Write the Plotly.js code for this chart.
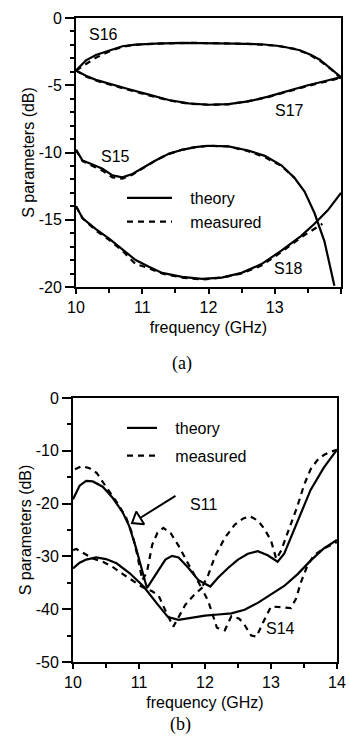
<!DOCTYPE html>
<html><head><meta charset="utf-8">
<script src="https://cdn.plot.ly/plotly-3.0.1.min.js"></script>
<style>html,body{margin:0;padding:0;background:#fff}#chart{width:349px;height:746px}</style>
</head><body><div id="chart"></div>
<script>
// ---------- panel (a) ----------
const fS16 = [10, 10.15, 10.3, 10.5, 10.7, 10.9, 11.2, 11.6, 12.0, 12.4, 12.8, 13.1, 13.38, 13.55, 13.68, 13.88, 14];
const s16Theory = [-3.9, -3.15, -2.75, -2.4, -2.1, -1.98, -1.9, -1.85, -1.85, -1.9, -1.95, -2.1, -2.4, -2.75, -3.1, -3.9, -4.4];
const fS16m = [10, 10.1, 10.2, 10.3, 10.45, 10.6, 10.8, 11.0, 11.4, 11.8, 12.2, 12.6, 13.0, 13.3, 13.5, 13.7, 13.85, 14];
const s16Meas = [-3.9, -3.6, -3.3, -2.95, -2.6, -2.3, -2.05, -1.95, -1.88, -1.85, -1.88, -1.93, -2.05, -2.3, -2.65, -3.25, -3.8, -4.5];

const fS17 = [10, 10.15, 10.3, 10.5, 10.8, 11.1, 11.4, 11.7, 12.0, 12.3, 12.6, 12.9, 13.2, 13.5, 13.75, 14];
const s17Theory = [-3.9, -4.3, -4.6, -4.9, -5.3, -5.7, -6.1, -6.35, -6.45, -6.4, -6.2, -5.85, -5.4, -5.0, -4.7, -4.4];
const s17Meas = [-3.9, -4.35, -4.65, -4.95, -5.35, -5.75, -6.12, -6.38, -6.45, -6.42, -6.18, -5.88, -5.45, -5.05, -4.75, -4.45];

const fS15 = [10, 10.1, 10.25, 10.4, 10.55, 10.7, 10.85, 11.0, 11.2, 11.4, 11.6, 11.8, 12.0, 12.3, 12.6, 12.85, 13.1, 13.3, 13.45, 13.6, 13.75, 13.9];
const s15Theory = [-9.8, -10.6, -10.9, -11.2, -11.7, -11.85, -11.6, -11.15, -10.6, -10.1, -9.8, -9.6, -9.5, -9.55, -9.85, -10.25, -10.95, -11.9, -12.9, -14.5, -16.6, -19.9];
const fS15m = [10, 10.1, 10.25, 10.4, 10.55, 10.7, 10.85, 11.0, 11.2, 11.4, 11.6, 11.8, 12.0, 12.3, 12.6, 12.85, 13.1, 13.3];
const s15Meas = [-9.8, -10.65, -11.0, -11.35, -11.85, -11.95, -11.65, -11.2, -10.6, -10.1, -9.8, -9.6, -9.5, -9.55, -9.9, -10.35, -11.0, -11.9];

const fS18 = [10, 10.1, 10.3, 10.5, 10.7, 10.9, 11.1, 11.3, 11.6, 11.9, 12.2, 12.5, 12.8, 13.1, 13.4, 13.6, 13.8, 14];
const s18Theory = [-14.0, -14.9, -15.7, -16.4, -17.2, -18.0, -18.5, -18.95, -19.25, -19.4, -19.3, -18.95, -18.3, -17.3, -16.2, -15.3, -14.3, -13.0];
const fS18m = [10, 10.1, 10.3, 10.5, 10.7, 10.9, 11.1, 11.3, 11.6, 11.9, 12.2, 12.5, 12.8, 13.1, 13.4, 13.55, 13.72];
const s18Meas = [-14.0, -14.9, -15.8, -16.5, -17.3, -18.3, -18.6, -19.0, -19.3, -19.45, -19.3, -19.0, -18.4, -17.4, -16.3, -15.8, -15.3];

// ---------- panel (b) ----------
const fS11 = [10, 10.1, 10.2, 10.3, 10.45, 10.6, 10.75, 10.85, 10.95, 11.03, 11.12, 11.25, 11.4, 11.5, 11.6, 11.75, 11.9, 12.08, 12.2, 12.35, 12.5, 12.65, 12.8, 12.95, 13.1, 13.2, 13.3, 13.45, 13.6, 13.8, 14];
const s11Theory = [-19.2, -16.6, -15.7, -15.8, -16.8, -18.9, -21.6, -24.2, -28.2, -32.0, -36.0, -33.5, -30.6, -29.9, -30.2, -32.2, -34.5, -35.7, -34.0, -32.2, -30.6, -29.5, -29.0, -29.8, -31.0, -29.5, -26.5, -21.8, -17.4, -13.2, -9.8];
const fS11m = [10.03, 10.13, 10.25, 10.36, 10.5, 10.65, 10.8, 10.9, 10.97, 11.05, 11.12, 11.2, 11.28, 11.37, 11.48, 11.6, 11.72, 11.85, 11.95, 12.05, 12.15, 12.3, 12.45, 12.58, 12.68, 12.8, 12.9, 13.0, 13.08, 13.15, 13.25, 13.4, 13.5, 13.6, 13.7, 13.8, 13.9, 14.0];
const s11Meas = [-13.5, -12.9, -13.3, -14.2, -16.8, -19.5, -22.5, -25.8, -29.5, -34.5, -33.0, -27.8, -25.5, -24.6, -25.6, -28.0, -30.8, -33.8, -36.0, -33.5, -30.0, -26.5, -24.0, -22.8, -22.4, -23.2, -24.8, -27.0, -30.5, -29.0, -25.5, -20.5, -16.5, -13.5, -11.8, -10.8, -10.2, -9.8];

const fS14 = [10, 10.1, 10.2, 10.35, 10.5, 10.66, 10.86, 11.07, 11.27, 11.44, 11.6, 11.8, 12.0, 12.2, 12.4, 12.6, 12.8, 13.0, 13.2, 13.4, 13.6, 13.8, 14];
const s14Theory = [-32.3, -31.2, -30.6, -30.2, -30.5, -31.3, -33.2, -35.7, -38.9, -41.5, -42.0, -41.6, -41.2, -41.0, -40.8, -40.1, -38.8, -37.2, -35.6, -33.4, -30.8, -28.5, -26.9];
const fS14m = [10.0, 10.05, 10.15, 10.3, 10.45, 10.6, 10.75, 10.9, 11.05, 11.2, 11.3, 11.42, 11.52, 11.6, 11.7, 11.82, 11.95, 12.05, 12.12, 12.18, 12.3, 12.4, 12.52, 12.6, 12.7, 12.78, 12.88, 13.0, 13.15, 13.3, 13.38, 13.45, 13.55, 13.65, 13.8, 14.0];
const s14Meas = [-28.8, -28.6, -29.3, -30.4, -31.0, -32.0, -33.3, -34.5, -35.8, -36.6, -37.5, -40.8, -43.3, -41.5, -39.2, -37.5, -36.0, -38.5, -41.0, -43.5, -44.0, -41.3, -41.8, -43.0, -45.0, -45.2, -42.5, -39.5, -39.6, -39.8, -38.0, -35.0, -31.8, -29.8, -28.5, -27.3];

// ticks
const xTickVals = [10, 11, 12, 13, 14];
const xTickText = ['10', '11', '12', '13', '14'];
const yTickValsA = [0, -5, -10, -15, -20];
const yTickTextA = ['0', '-5', '-10', '-15', '-20'];
const yTickValsB = [0, -10, -20, -30, -40, -50];
const yTickTextB = ['0', '-10', '-20', '-30', '-40', '-50'];

// legend names (non-breaking spaces widen the gap after the line sample)
const PAD = '\u00a0\u00a0\u00a0';
const nameTheory = 'theory';
const nameMeasured = 'measured';

// labels
const labelsA = [
  {text: 'S16', f: 10.41, v: -1.26},
  {text: 'S17', f: 13.23, v: -6.84},
  {text: 'S15', f: 10.59, v: -10.26},
  {text: 'S18', f: 13.2, v: -18.6}
];
const labelsB = [
  {text: 'S14', f: 13.14, v: -43.6}
];
const s11Label = {text: 'S11', f: 11.97, v: -20.1};
const s11Pointer = {f: 10.977, v: -23.03};

const FONT = 'Liberation Sans, Arial, Helvetica, sans-serif';
const solid = {color: '#000', width: 2.2};
const dashed = {color: '#000', width: 2.2, dash: '6px,5px'};

function tr(x, y, line, xa, ya, name, show, lg) {
  return {x: x, y: y, type: 'scatter', mode: 'lines', line: line, xaxis: xa, yaxis: ya,
          name: PAD + name, showlegend: show, legend: lg, legendgroup: lg + name, hoverinfo: 'skip'};
}

const data = [
  tr(fS16, s16Theory, solid, 'x', 'y', nameTheory, true, 'legend'),
  tr(fS16m, s16Meas, dashed, 'x', 'y', nameMeasured, true, 'legend'),
  tr(fS17, s17Theory, solid, 'x', 'y', nameTheory, false, 'legend'),
  tr(fS17, s17Meas, dashed, 'x', 'y', nameMeasured, false, 'legend'),
  tr(fS15, s15Theory, solid, 'x', 'y', nameTheory, false, 'legend'),
  tr(fS15m, s15Meas, dashed, 'x', 'y', nameMeasured, false, 'legend'),
  tr(fS18, s18Theory, solid, 'x', 'y', nameTheory, false, 'legend'),
  tr(fS18m, s18Meas, dashed, 'x', 'y', nameMeasured, false, 'legend'),
  tr(fS11, s11Theory, solid, 'x2', 'y2', nameTheory, true, 'legend2'),
  tr(fS11m, s11Meas, dashed, 'x2', 'y2', nameMeasured, true, 'legend2'),
  tr(fS14, s14Theory, solid, 'x2', 'y2', nameTheory, false, 'legend2'),
  tr(fS14m, s14Meas, dashed, 'x2', 'y2', nameMeasured, false, 'legend2'),
  {x: [s11Pointer.f], y: [s11Pointer.v], xaxis: 'x2', yaxis: 'y2', type: 'scatter', mode: 'markers',
   marker: {symbol: 'triangle-up-open', size: 13, angle: 238, color: '#000', line: {width: 2, color: '#000'}},
   showlegend: false, hoverinfo: 'skip'}
];

function xAxis(domain, anchor, standoff) {
  return {domain: domain, anchor: anchor, range: [10, 14], tickmode: 'array', tickvals: xTickVals, ticktext: xTickText,
    ticks: 'outside', ticklen: 5, tickwidth: 2, tickcolor: '#000',
    minor: {dtick: 0.5, ticks: 'outside', ticklen: 4, tickwidth: 2, tickcolor: '#000', showgrid: false},
    showline: true, linewidth: 2, linecolor: '#000', mirror: true, showgrid: false, zeroline: false,
    tickfont: {family: FONT, size: 16, color: '#000'},
    title: {text: 'frequency (GHz)', font: {family: FONT, size: 16, color: '#000'}, standoff: standoff}};
}
function yAxis(domain, anchor, range, vals, text, minorStep) {
  return {domain: domain, anchor: anchor, range: range, tickmode: 'array', tickvals: vals, ticktext: text,
    ticks: 'outside', ticklen: 9, tickwidth: 2, tickcolor: '#000',
    minor: {dtick: minorStep, ticks: 'outside', ticklen: 4, tickwidth: 2, tickcolor: '#000', showgrid: false},
    showline: true, linewidth: 2, linecolor: '#000', mirror: true, showgrid: false, zeroline: false,
    tickfont: {family: FONT, size: 16, color: '#000'},
    title: {text: 'S parameters (dB)', font: {family: FONT, size: 16, color: '#000'}, standoff: 0}};
}

const annotations = [];
labelsA.forEach(l => annotations.push({x: l.f, y: l.v, xref: 'x', yref: 'y', text: l.text, showarrow: false,
  font: {family: FONT, size: 16, color: '#000'}}));
labelsB.forEach(l => annotations.push({x: l.f, y: l.v, xref: 'x2', yref: 'y2', text: l.text, showarrow: false,
  font: {family: FONT, size: 16, color: '#000'}}));
annotations.push({x: s11Label.f, y: s11Label.v, xref: 'x2', yref: 'y2', text: s11Label.text, showarrow: false,
  font: {family: FONT, size: 16, color: '#000'}});
annotations.push({x: s11Pointer.f, y: s11Pointer.v, xref: 'x2', yref: 'y2', text: '', showarrow: true,
  arrowhead: 0, arrowwidth: 2, arrowcolor: '#000', standoff: 4, ax: 39.5, ay: -24.6});
annotations.push({x: 182 / 349, y: 1 - 363 / 746, xref: 'paper', yref: 'paper', text: '(a)', showarrow: false,
  font: {family: 'Liberation Serif, Times New Roman, serif', size: 18, color: '#000'}});
annotations.push({x: 180 / 349, y: 1 - 737 / 746, xref: 'paper', yref: 'paper', text: '(b)', showarrow: false,
  font: {family: 'Liberation Serif, Times New Roman, serif', size: 18, color: '#000'}});

const legendStyle = {bgcolor: 'rgba(0,0,0,0)', borderwidth: 0, font: {family: FONT, size: 16, color: '#000'},
  xanchor: 'left', yanchor: 'top'};

const layout = {
  width: 349, height: 746,
  margin: {l: 0, r: 0, t: 0, b: 0},
  paper_bgcolor: '#fff', plot_bgcolor: '#fff',
  font: {family: FONT, size: 16, color: '#000'},
  xaxis: xAxis([76 / 349, 341 / 349], 'y', 7),
  yaxis: yAxis([1 - 287 / 746, 1 - 18 / 746], 'x', [-20, 0], yTickValsA, yTickTextA, 1),
  xaxis2: xAxis([73 / 349, 337 / 349], 'y2', 7),
  yaxis2: yAxis([1 - 662 / 746, 1 - 398 / 746], 'x2', [-50, 0], yTickValsB, yTickTextB, 5),
  legend: Object.assign({}, legendStyle, {x: 122 / 349, y: 1 - 181 / 746, itemwidth: 45, traceorder: 'normal'}),
  legend2: Object.assign({}, legendStyle, {x: 122 / 349, y: 1 - 411 / 746, itemwidth: 30, traceorder: 'grouped', tracegroupgap: 4}),
  annotations: annotations,
  showlegend: true
};

Plotly.newPlot('chart', data, layout, {staticPlot: true, displayModeBar: false});
</script>
</body></html>
